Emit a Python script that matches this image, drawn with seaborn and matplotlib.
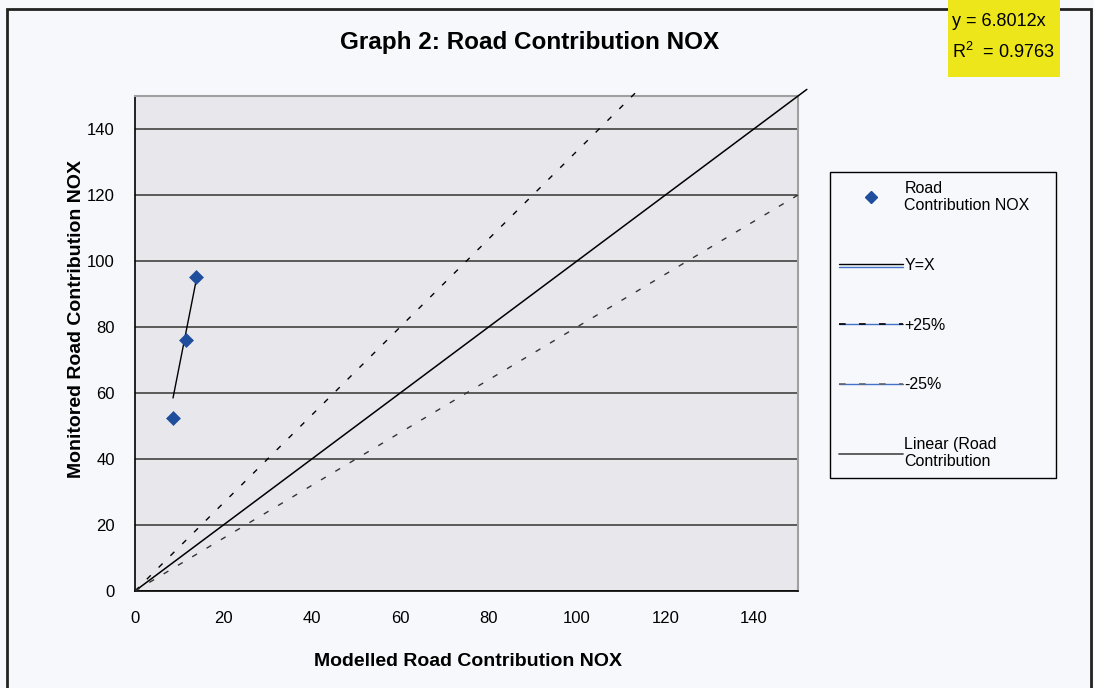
# plot.py
# Graph 2: Road Contribution NOX - monitored vs modelled, with Y=X and +/-25% lines

import matplotlib
matplotlib.use('Agg')
import matplotlib.pyplot as plt
import matplotlib.patheffects as pe
from matplotlib.lines import Line2D
from matplotlib.patches import Rectangle
from matplotlib.legend_handler import HandlerTuple
import seaborn as sns
import pandas as pd

# ── Data ──────────────────────────────────────────────────
modelled = [8.6, 11.6, 13.8]
monitored = [52.5, 76.2, 95.3]

trend_slope = 6.8012
trend_r2 = 0.9763

# Y=X reference line
line_y = [0, 5, 10, 15, 20, 25, 30, 35, 40, 45, 50, 55, 60, 65, 70, 75,
          80, 85, 90, 95, 100, 105, 110, 115, 120, 125, 130, 135, 140,
          145, 150, 152]
yx_x = [0, 5, 10, 15, 20, 25, 30, 35, 40, 45, 50, 55, 60, 65, 70, 75,
        80, 85, 90, 95, 100, 105, 110, 115, 120, 125, 130, 135, 140,
        145, 150, 152]

# +25% line (modelled = 0.75 * monitored)
upper_x = [0, 3.75, 7.5, 11.25, 15, 18.75, 22.5, 26.25, 30, 33.75, 37.5,
           41.25, 45, 48.75, 52.5, 56.25, 60, 63.75, 67.5, 71.25, 75,
           78.75, 82.5, 86.25, 90, 93.75, 97.5, 101.25, 105, 108.75,
           112.5, 114]

# -25% line (modelled = 1.25 * monitored)
lower_x = [0, 6.25, 12.5, 18.75, 25, 31.25, 37.5, 43.75, 50, 56.25, 62.5,
           68.75, 75, 81.25, 87.5, 93.75, 100, 106.25, 112.5, 118.75, 125,
           131.25, 137.5, 143.75, 150]
lower_y = line_y[:25]

x_ticks = [0, 20, 40, 60, 80, 100, 120, 140]
y_ticks = [0, 20, 40, 60, 80, 100, 120, 140]

# ── Style ─────────────────────────────────────────────────
W, H = 1094, 688
fig_bg = '#F7F8FC'
plot_bg = '#E8E8EC'
blue = '#1F4E9C'

sns.set_style('white', {'axes.facecolor': plot_bg})
plt.rcParams['font.family'] = ['Liberation Sans', 'DejaVu Sans']
plt.rcParams['mathtext.default'] = 'regular'
plt.rcParams['text.color'] = 'black'
plt.rcParams['xtick.color'] = 'black'
plt.rcParams['ytick.color'] = 'black'

fig = plt.figure(figsize=(W / 100, H / 100), dpi=100, facecolor=fig_bg)
ax = fig.add_axes([135 / W, 1 - 591 / H, (798 - 135) / W, (591 - 96) / H])
ax.set_facecolor(plot_bg)

# horizontal gridlines
ax.set_axisbelow(True)
ax.yaxis.grid(True, color='#5A5A5A', linewidth=1.4)
ax.xaxis.grid(False)

points = pd.DataFrame({'x': modelled, 'y': monitored})
dash = (0, (4, 8))

# reference lines (not clipped, like the original)
sns.lineplot(x=yx_x, y=line_y, ax=ax, color='black', linewidth=1.1,
             sort=False, estimator=None, clip_on=False, zorder=3)
sns.lineplot(x=upper_x, y=line_y, ax=ax, color='black', linewidth=1,
             linestyle=dash, sort=False, estimator=None,
             clip_on=False, zorder=3)
sns.lineplot(x=lower_x, y=lower_y, ax=ax, color='#333333', linewidth=1,
             linestyle=dash, sort=False, estimator=None,
             clip_on=False, zorder=3)

# linear trendline over the data range
tx = [min(modelled), max(modelled)]
ty = [trend_slope * v for v in tx]
sns.lineplot(x=tx, y=ty, ax=ax, color='black', linewidth=1,
             sort=False, estimator=None, zorder=4)

sns.scatterplot(data=points, x='x', y='y', ax=ax, marker='D', s=50,
                color=blue, edgecolor=blue, linewidth=0.5, zorder=5)

ax.set_xlim(0, 150)
ax.set_ylim(0, 150)
ax.set_xticks(x_ticks)
ax.set_yticks(y_ticks)
ax.set_xlabel('')
ax.set_ylabel('')
ax.tick_params(axis='x', direction='inout', length=9, width=1,
               labelsize=12, pad=10, colors='black')
ax.tick_params(axis='y', direction='inout', length=9, width=1,
               labelsize=12, pad=10, colors='black')

for side in ['left', 'bottom']:
    ax.spines[side].set_color('black')
    ax.spines[side].set_linewidth(1.2)
for side in ['top', 'right']:
    ax.spines[side].set_color('#A0A0A0')
    ax.spines[side].set_linewidth(1.5)

# ── Text ──────────────────────────────────────────────────
fig.text(530 / W, 1 - 43 / H, 'Graph 2: Road Contribution NOX',
         ha='center', va='center', fontsize=17.5, fontweight='bold')
fig.text(468 / W, 1 - 662 / H, 'Modelled Road Contribution NOX',
         ha='center', va='center', fontsize=14, fontweight='bold')
fig.text(77 / W, 1 - 319 / H, 'Monitored Road Contribution NOX',
         ha='center', va='center', rotation=90, fontsize=14,
         fontweight='bold')

# outer chart border
fig.patches.append(Rectangle((6.5 / W, -0.02), (1091 - 6.5) / W,
                             1.02 - 8.5 / H, transform=fig.transFigure,
                             fill=False, edgecolor='#222222', linewidth=2,
                             zorder=1))

# trendline equation box
fig.patches.append(Rectangle((948 / W, 1 - 77 / H), (1060 - 948) / W,
                             77 / H, transform=fig.transFigure,
                             facecolor='#ECE61A', edgecolor='none',
                             zorder=2))
fig.text(952 / W, 1 - 22 / H, f'y = {trend_slope}x', ha='left',
         va='center', fontsize=13, zorder=3)
fig.text(952 / W, 1 - 52 / H, f'R$^2$  = {trend_r2}', ha='left',
         va='center', fontsize=13, zorder=3)

# ── Legend ────────────────────────────────────────────────
leg_blue = '#4472C4'
h_pts = Line2D([], [], marker='D', linestyle='none', color=blue,
               markersize=6)
h_yx = Line2D([], [], color='black', linewidth=1,
              path_effects=[pe.SimpleLineShadow(offset=(0, -2),
                                                shadow_color=leg_blue,
                                                alpha=1),
                            pe.Normal()])
h_up = (Line2D([], [], color=leg_blue, linewidth=1),
        Line2D([], [], color='black', linewidth=1.2, linestyle=dash))
h_lo = (Line2D([], [], color=leg_blue, linewidth=1),
        Line2D([], [], color='#666666', linewidth=1.2, linestyle=dash))
h_tr = Line2D([], [], color='#555555', linewidth=1.3)

leg = fig.legend([h_pts, h_yx, h_up, h_lo, h_tr],
                 ['Road\nContribution NOX    ', 'Y=X', '+25%', '-25%',
                  'Linear (Road\nContribution'],
                 handler_map={tuple: HandlerTuple(ndivide=1, pad=0)},
                 loc='upper left', bbox_to_anchor=(830 / W, 1 - 172 / H),
                 frameon=True, fancybox=False, framealpha=1,
                 facecolor=fig_bg, edgecolor='black', fontsize=11.5,
                 handlelength=4.0, handletextpad=0.1, labelspacing=2.8,
                 borderpad=0.55, borderaxespad=0)
leg.get_frame().set_linewidth(1)

plt.savefig('out.png', dpi=100, facecolor=fig_bg)
plt.close()
